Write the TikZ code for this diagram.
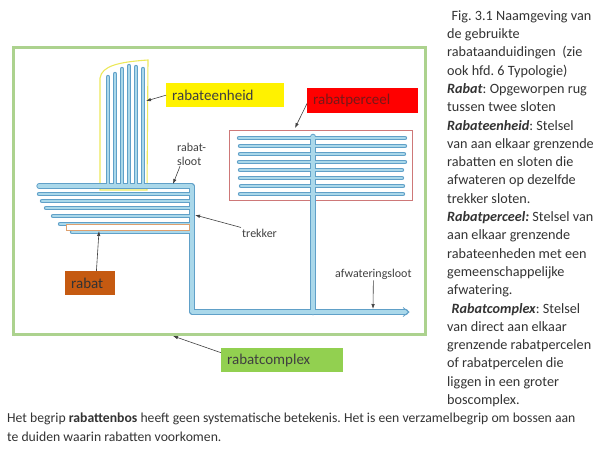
\documentclass[tikz,border=0pt]{standalone}
\usepackage{fontspec}
\setmainfont{Carlito}
\usetikzlibrary{arrows.meta,positioning}

\definecolor{kadergroen}{RGB}{172,210,142}
\definecolor{slootrand}{RGB}{96,160,200}
\definecolor{slootvul}{RGB}{170,216,234}
\definecolor{eenheidgeel}{RGB}{236,232,90}
\definecolor{perceelroze}{RGB}{206,120,120}
\definecolor{rabatbruin}{RGB}{197,90,17}
\definecolor{rabatrandje}{RGB}{222,160,110}
\definecolor{complexgroen}{RGB}{146,208,80}
\definecolor{tekstgrijs}{RGB}{64,64,64}
\definecolor{perceelrood}{RGB}{120,24,24}

\begin{document}
\frenchspacing
\begin{tikzpicture}[
      x=1pt, y=-1pt,
      font=\fontsize{12}{14}\selectfont,
      etiket/.style={anchor=north west, inner xsep=6pt, inner ysep=0pt, minimum height=24pt, align=left, font=\fontsize{15}{18}\selectfont, text=tekstgrijs},
      notitie/.style={inner sep=1pt, align=left, text=tekstgrijs, font=\fontsize{12}{14}\selectfont},
      wijzer/.style={-{Latex[length=5pt,width=3.5pt]}, draw=black!75, line width=0.6pt},
      rand/.style={draw=slootrand, line cap=round, line join=round},
      vul/.style={draw=slootvul, line cap=round, line join=round},
      tekstblok/.style={anchor=north west, inner sep=0pt, align=left, text=black!80, font=\fontsize{14.2}{18.3}\selectfont}
    ]
    \useasboundingbox (0,0) rectangle (600,448);

    % kader van het rabatcomplex
    \draw[kadergroen, line width=3pt] (13,47) rectangle (425,334);
    % omlijning rabateenheid
    \draw[eenheidgeel, line width=1.1pt] (100,190) -- (100,78) .. controls (102,66) and (118,62) .. (148,60) -- (147,190) -- cycle;
    % omlijning rabatperceel
    \draw[perceelroze, line width=0.8pt] (229,130) rectangle (412,200);

    % sloten: eerst de randen, dan de vulling
    \foreach \laag/\smal/\breed in {rand/4.4pt/6.6pt, vul/2.6pt/4.6pt} {
      \foreach \x/\y in {108/77,115/74,122/69,129/66,136/67,143/69}
        \draw[\laag, line width=\smal] (\x,\y) -- (\x,186);
      \foreach \x/\y in {39/194,42/201,46/208,53/216,60/224,72/232}
        \draw[\laag, line width=\smal] (\x,\y) -- (192,\y);
      \foreach \y/\a/\b in {138/239/405,146/240/405,154/240/404,162/239/405,170/240/402,178/240/402,186/241/403,194/240/403}
        \draw[\laag, line width=\smal] (\a,\y) -- (\b,\y);
      \draw[\laag, line width=\smal+0.8pt] (39,186) -- (192,186) -- (192,312) -- (406,312);
      \draw[\laag, line width=\breed] (313,137) -- (313,312);
    }
    \draw[slootrand, line width=0.8pt] (403,307.5) -- (409,312) -- (403,316.5);
    % het rabat tussen twee sloten
    \draw[rabatrandje, fill=white, line width=0.8pt] (66,224.5) rectangle (189,230.5);

    % benoemingen
    \node[etiket, fill=yellow, text width=106pt] (rabateenheid) at (166,83) {rabateenheid};
    \node[etiket, fill=red, text=perceelrood, text width=99pt, minimum height=25pt] (rabatperceel) at (307,88) {rabatperceel};
    \node[etiket, fill=rabatbruin, text width=38pt, text=black!80] (rabat) at (65,271) {rabat};
    \node[etiket, fill=complexgroen, text width=110pt] (rabatcomplex) at (221,348) {rabatcomplex};
    \node[notitie, anchor=north west] (rabatsloot) at (176,140) {\strut rabat-\\sloot};
    \node[notitie, anchor=base west] (trekker) at (241,237) {trekker};
    \node[notitie, anchor=base west] (afwatering) at (334,277) {afwateringsloot};

    \coordinate (doelEenheid) at (146,101);
    \coordinate (doelPerceel) at (295,128);
    \coordinate (doelRabat) at (99,231);
    \coordinate (doelComplex) at (173,336);
    \coordinate (doelSloot) at (173,184);
    \coordinate (doelTrekker) at (195,215);
    \coordinate (doelAfwatering) at (373,309);

    \draw[wijzer] (rabateenheid.west) -- (doelEenheid);
    \draw[wijzer] (rabatperceel.183) -- (doelPerceel);
    \draw[wijzer] (rabat.63) -- (doelRabat);
    \draw[wijzer] (rabatcomplex.173) -- (doelComplex);
    \draw[wijzer] ([xshift=4pt]rabatsloot.south west) -- (doelSloot);
    \draw[wijzer] (trekker.north west) -- (doelTrekker);
    \draw[wijzer] (afwatering.south) -- (doelAfwatering);

    % bijschrift
    \node[tekstblok] (bijschrift) at (447,7.2) {\strut\hspace{4.5pt}Fig. 3.1 Naamgeving van\\
      de gebruikte\\
      rabataanduidingen\ \ (zie\\
      ook hfd. 6 Typologie)\\
      \textbf{\textit{Rabat}}: Opgeworpen rug\\
      tussen twee sloten\\
      \textbf{\textit{Rabateenheid}}: Stelsel\\
      van aan elkaar grenzende\\
      rabatten en sloten die\\
      afwateren op dezelfde\\
      trekker sloten.\\
      \textbf{\textit{Rabatperceel:}} Stelsel van\\
      aan elkaar grenzende\\
      rabateenheden met een\\
      gemeenschappelijke\\
      afwatering.\\
      \hspace{4.5pt}\textbf{\textit{Rabatcomplex}}: Stelsel\\
      van direct aan elkaar\\
      grenzende rabatpercelen\\
      of rabatpercelen die\\
      liggen in een groter\\
      boscomplex.};
    \node[tekstblok, font=\fontsize{13.7}{18.3}\selectfont] (toelichting) at (7,409.9) {\strut Het begrip \textbf{rabattenbos} heeft geen systematische betekenis. Het is een verzamelbegrip om bossen aan\\
      te duiden waarin rabatten voorkomen.};
\end{tikzpicture}
\end{document}
